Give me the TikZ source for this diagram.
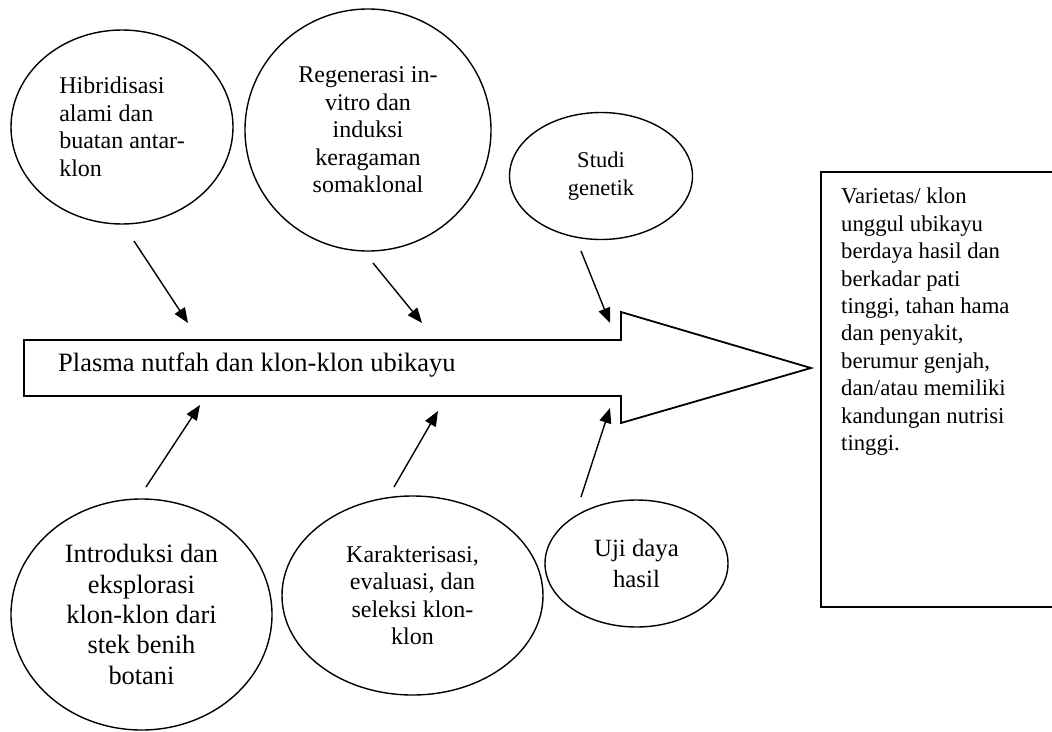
\documentclass[tikz,border=0pt]{standalone}
\usepackage{fontspec}
\setmainfont{Liberation Serif}
\usetikzlibrary{shapes.geometric,arrows.meta}

\tikzset{
  bubble/.style={ellipse, draw, line width=1.4pt, inner sep=0pt, outer sep=0pt, align=center},
  feed/.style={line width=1.4pt, -{Triangle[length=15pt,width=12pt]}},
  txtA/.style={font=\fontsize{24}{27.5}\selectfont},
  txtB/.style={font=\fontsize{26.4}{30.4}\selectfont},
}

\begin{document}
\begin{tikzpicture}[x=1pt,y=1pt,yscale=-1]
\clip (0,0) rectangle (1052,731);

%Shape: Big arrow
\draw [line width=1.8pt] (24,340) -- (621,340) -- (621,312) -- (811,368) -- (621,423) -- (621,396) -- (24,396) -- cycle ;
% Text Node
\node [anchor=base west, inner sep=0pt, font=\fontsize{26.5}{30}\selectfont] (plasma) at (58,371) {Plasma nutfah dan klon-klon ubikayu};

%Shape: Result box
\draw [line width=1.8pt] (1080,172) -- (821,172) -- (821,607) -- (1080,607) ;
% Text Node
\node [anchor=north west, inner sep=0pt, align=left, font=\fontsize{22.7}{27.4}\selectfont] (hasil) at (841,188)
  {Varietas/ klon\\unggul ubikayu\\berdaya hasil dan\\berkadar pati\\tinggi, tahan hama\\dan penyakit,\\berumur genjah,\\dan/atau memiliki\\kandungan nutrisi\\tinggi.};

%Shape: Ellipses top
\node [bubble, txtA, align=left, minimum width=222pt, minimum height=194pt] (hib) at (122,127)
  {Hibridisasi\\alami dan\\buatan antar-\\klon};
\node [bubble, txtA, minimum width=246pt, minimum height=242pt] (regen) at (368,130)
  {Regenerasi in-\\vitro dan\\induksi\\keragaman\\somaklonal};
\node [bubble, font=\fontsize{22.5}{28}\selectfont, minimum width=183pt, minimum height=127pt] (studi) at (601,176)
  {Studi\\genetik};

%Shape: Ellipses bottom
\node [bubble, txtB, minimum width=261pt, minimum height=231pt] (intro) at (141.5,614.5)
  {Introduksi dan\\eksplorasi\\klon-klon dari\\stek benih\\botani};
\node [bubble, txtA, minimum width=261pt, minimum height=199pt] (karak) at (412.5,595.5)
  {Karakterisasi,\\evaluasi, dan\\seleksi klon-\\klon};
\node [bubble, font=\fontsize{24.8}{31}\selectfont, minimum width=183pt, minimum height=127pt] (uji) at (636.5,563.5)
  {Uji daya\\hasil};

%Straight Lines: arrows into the big arrow
\coordinate (hibS) at (134,241);   \coordinate (hibE) at (188,323);
\coordinate (regenS) at (373,263); \coordinate (regenE) at (422,323);
\coordinate (studiS) at (581,251); \coordinate (studiE) at (610,323);
\coordinate (introS) at (146,487); \coordinate (introE) at (200,405);
\coordinate (karakS) at (394,487); \coordinate (karakE) at (438,411);
\coordinate (ujiS) at (581,497);   \coordinate (ujiE) at (610,408);

\foreach \n in {hib,regen,studi,intro,karak,uji}
  \draw [feed] (\n S) -- (\n E);

\end{tikzpicture}
\end{document}
